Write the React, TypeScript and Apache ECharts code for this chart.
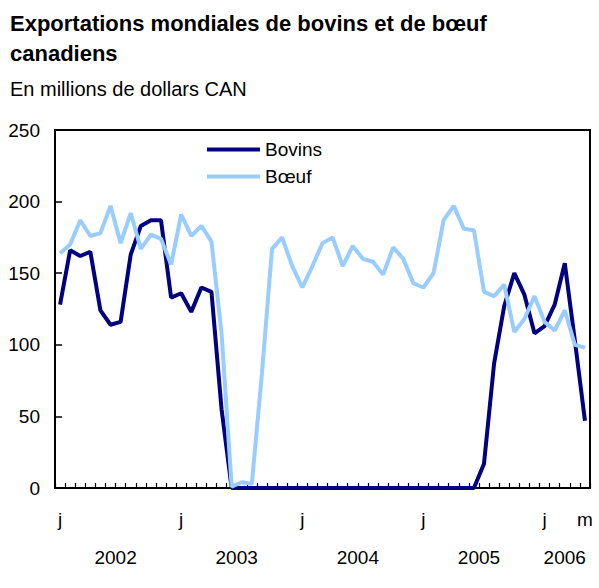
import React, { useEffect, useRef } from "react";
import * as echarts from "echarts";

const monthLetters = ["j", "f", "m", "a", "m", "j", "j", "a", "s", "o", "n", "d"];
const years = ["2002", "2003", "2004", "2005", "2006"];
const monthsPerYear = [12, 12, 12, 12, 5];
const yTicks = [0, 50, 100, 150, 200, 250];

const bovins = [
  128, 166, 162, 165, 124, 114, 116, 163, 183, 187, 187, 133,
  136, 123, 140, 137, 55, 0, 0, 0, 0, 0, 0, 0,
  0, 0, 0, 0, 0, 0, 0, 0, 0, 0, 0, 0,
  0, 0, 0, 0, 0, 0, 17, 87, 127, 150, 135, 108,
  113, 128, 157, 103, 47,
];

const boeuf = [
  164, 170, 187, 176, 178, 197, 171, 192, 167, 177, 174, 156,
  191, 176, 183, 172, 108, 1, 4, 3, 80, 167, 175, 155,
  140, 155, 171, 175, 155, 169, 160, 158, 149, 168, 160, 143,
  140, 150, 187, 197, 181, 180, 137, 134, 142, 109, 118, 134,
  116, 110, 124, 100, 98,
];

const categories: string[] = [];
const yearCenters: number[] = [];
years.forEach((y, yi) => {
  const start = categories.length;
  for (let m = 0; m < monthsPerYear[yi]; m++) categories.push(`${y}-${m + 1}`);
  yearCenters.push((start + categories.length - 1) / 2);
});

const FONT = "'Liberation Sans', Arial, Helvetica, sans-serif";

export default function App() {
  const ref = useRef<HTMLDivElement>(null);
  useEffect(() => {
    if (!ref.current) return;
    const chart = echarts.init(ref.current, undefined, { renderer: "svg" });
    const last = categories.length - 1;
    chart.setOption({
      animation: false,
      backgroundColor: "#fff",
      textStyle: { fontFamily: FONT },
      title: [
        {
          text: "Exportations mondiales de bovins et de bœuf\ncanadiens",
          left: 10,
          top: 8,
          padding: 0,
          textStyle: { fontFamily: FONT, fontSize: 22, fontWeight: "bold", color: "#000", lineHeight: 30 },
        },
        {
          text: "En millions de dollars CAN",
          left: 10,
          top: 77,
          padding: 0,
          textStyle: { fontFamily: FONT, fontSize: 20, fontWeight: "normal", color: "#000", lineHeight: 24 },
        },
      ],
      legend: {
        data: ["Bovins", "Bœuf"],
        orient: "vertical",
        left: 207,
        top: 140,
        padding: 0,
        icon: "rect",
        itemWidth: 53,
        itemHeight: 4,
        itemGap: 8,
        textStyle: { fontFamily: FONT, fontSize: 19, color: "#000", lineHeight: 19 },
      },
      grid: {
        left: 55,
        right: 9,
        top: 130,
        bottom: 100,
        show: true,
        borderColor: "#000",
        borderWidth: 2,
      },
      xAxis: [
        {
          type: "category",
          data: categories,
          boundaryGap: true,
          axisLine: { show: true, onZero: false, lineStyle: { color: "#000", width: 2 } },
          axisTick: { show: true, inside: true, length: 5, interval: 0, lineStyle: { color: "#000", width: 1.2 } },
          axisLabel: {
            interval: (index: number) => index % 12 === 0 || index === last,
            formatter: (value: string) => {
              const m = parseInt(value.split("-")[1], 10) - 1;
              return monthLetters[m];
            },
            color: "#000",
            fontSize: 19,
            fontFamily: FONT,
            margin: 22,
          },
          splitLine: { show: false },
        },
        {
          type: "value",
          position: "bottom",
          min: -0.5,
          max: categories.length - 0.5,
          offset: 51,
          axisLine: { show: false, onZero: false },
          axisTick: { show: false },
          splitLine: { show: false },
          axisLabel: {
            customValues: yearCenters,
            formatter: (v: number) => {
              const i = yearCenters.indexOf(v);
              return i >= 0 ? years[i] : "";
            },
            color: "#000",
            fontSize: 19,
            fontFamily: FONT,
            margin: 9,
          },
        },
      ],
      yAxis: {
        type: "value",
        min: yTicks[0],
        max: yTicks[yTicks.length - 1],
        interval: yTicks[1] - yTicks[0],
        axisLine: { show: true, onZero: false, lineStyle: { color: "#000", width: 2 } },
        axisTick: { show: true, inside: true, length: 7, lineStyle: { color: "#000", width: 1.5 } },
        axisLabel: { color: "#000", fontSize: 19, fontFamily: FONT, margin: 15 },
        splitLine: { show: false },
      },
      series: [
        {
          name: "Bovins",
          type: "line",
          data: bovins,
          symbol: "none",
          lineStyle: { color: "#000080", width: 4 },
          itemStyle: { color: "#000080" },
        },
        {
          name: "Bœuf",
          type: "line",
          data: boeuf,
          symbol: "none",
          lineStyle: { color: "#99CCFF", width: 4 },
          itemStyle: { color: "#99CCFF" },
        },
      ],
    });
    return () => chart.dispose();
  }, []);
  return (
    <div
      ref={ref}
      style={{ position: "absolute", left: 0, top: 0, width: 599, height: 588, background: "#fff" }}
    />
  );
}
